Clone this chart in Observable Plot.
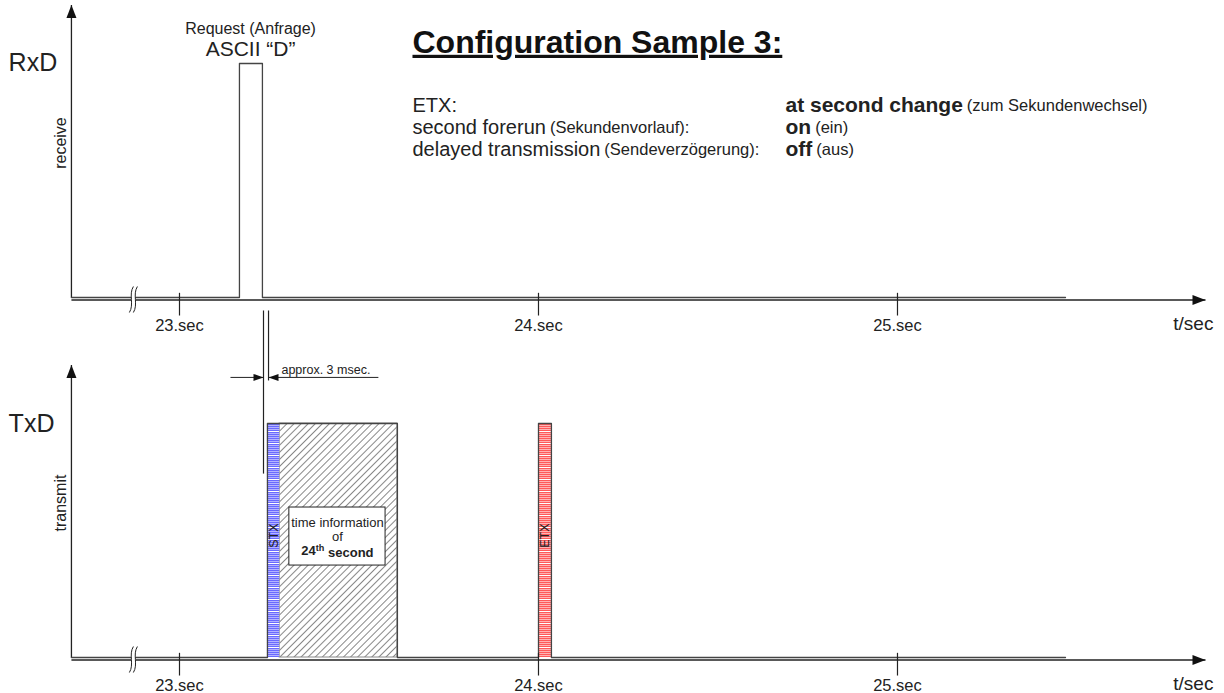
<!DOCTYPE html>
<html><head><meta charset="utf-8">
<script src="https://cdn.jsdelivr.net/npm/d3@7"></script>
<script src="https://cdn.jsdelivr.net/npm/@observablehq/plot@0.6"></script>
<style>body{margin:0;background:#fff}#chart svg{display:block;background:#fff}</style>
</head><body><div id="chart"></div>
<script>
// ---------------- data ----------------
const panels = ["RxD", "TxD"];
const panelDirections = ["receive", "transmit"];
const tickTimes = [23, 24, 25];
const tickLabels = ["23.sec", "24.sec", "25.sec"];
const axisLabel = "t/sec";
const timeStart = 22.699, signalEndTime = 25.468, axisEndTime = 25.858, breakTime = 22.866;
const rxdTimes  = [22.699, 23.167, 23.167, 23.231, 23.231, 25.468];
const rxdLevels = [0, 0, 1, 1, 0, 0];
const txdTimes  = [22.699, 23.245, 23.245, 23.607, 23.607, 24.0, 24.0, 24.036, 24.036, 25.468];
const txdLevels = [0, 0, 1, 1, 0, 0, 1, 1, 0, 0];
const stxSpan  = [23.245, 23.279];
const dataSpan = [23.279, 23.607];
const etxSpan  = [24.0, 24.036];
const frameLabels = ["STX", "ETX"];
const requestLabels = ["Request (Anfrage)", "ASCII \u201cD\u201d"];
const gapLabel = "approx. 3 msec.";
const gapTimes = [23.234, 23.248];
const boxLines = ["time information", "of", "24th second"];
const titleText = "Configuration Sample 3:";
const configNames   = ["ETX:", "second forerun", "delayed transmission"];
const configNamesDe = ["", "(Sekundenvorlauf):", "(Sendeverzögerung):"];
const configValues   = ["at second change", "on", "off"];
const configValuesDe = ["(zum Sekundenwechsel)", "(ein)", "(aus)"];

// ---------------- layout ----------------
const W = 1224, H = 693;
const FONT = "'Liberation Sans', Arial, Helvetica, sans-serif";
const xDomain = [22.5014, 25.9109];
const yDomain = [-0.1538, 2.8077];
const secPerPx = (xDomain[1] - xDomain[0]) / W;
const offsets = [1.5385, 0];
const ink = "#222", sigInk = "#444";

const measureCtx = document.createElement("canvas").getContext("2d");
function textWidth(s, size, weight = "normal") {
  measureCtx.font = `${weight} ${size}px ${FONT}`;
  return measureCtx.measureText(s).width;
}

const sig = [];
rxdTimes.forEach((t, i) => sig.push({panel: "RxD", t, y: rxdLevels[i] + offsets[0]}));
txdTimes.forEach((t, i) => sig.push({panel: "TxD", t, y: txdLevels[i] + offsets[1]}));

const panelRows = panels.map((p, i) => ({panel: p, dir: panelDirections[i], off: offsets[i]}));
const tickRows = panelRows.flatMap(p => tickTimes.map((t, i) => ({t, label: tickLabels[i], off: p.off})));

// custom symbols
const headRight = (len, wid) => ({draw(c) { c.moveTo(0, 0); c.lineTo(-len, -wid / 2); c.lineTo(-len, wid / 2); c.closePath(); }});
const headLeft  = (len, wid) => ({draw(c) { c.moveTo(0, 0); c.lineTo(len, -wid / 2); c.lineTo(len, wid / 2); c.closePath(); }});
const headUp    = (len, wid) => ({draw(c) { c.moveTo(0, 0); c.lineTo(-wid / 2, len); c.lineTo(wid / 2, len); c.closePath(); }});
const breakMask = {draw(c) {
  c.moveTo(2, -13); c.bezierCurveTo(-3, -5, 3, 5, -2, 13);
  c.lineTo(2, 13); c.bezierCurveTo(7, 5, 1, -5, 6, -13); c.closePath();
}};
const breakStroke = {draw(c) {
  c.moveTo(2, -13); c.bezierCurveTo(-3, -5, 3, 5, -2, 13);
  c.moveTo(6, -13); c.bezierCurveTo(1, -5, 7, 5, 2, 13);
}};

// config text segments
const cfgY = [2.359, 2.265, 2.171];
const cfgX = 23.649, cfgValX = 24.688;
const mainSize = 20, boldSize = 21, smallSize = 16.5;
const cfgSegments = [];
configNames.forEach((s, i) => {
  cfgSegments.push({x: cfgX, y: cfgY[i], text: s, size: mainSize, weight: "normal"});
  if (configNamesDe[i]) cfgSegments.push({x: cfgX + (textWidth(s, mainSize) + 4) * secPerPx, y: cfgY[i], text: configNamesDe[i], size: smallSize, weight: "normal"});
  cfgSegments.push({x: cfgValX, y: cfgY[i], text: configValues[i], size: boldSize, weight: "bold"});
  cfgSegments.push({x: cfgValX + (textWidth(configValues[i], boldSize, "bold") + 4) * secPerPx, y: cfgY[i], text: configValuesDe[i], size: smallSize, weight: "normal"});
});

const cfgMarks = [[mainSize, "normal"], [boldSize, "bold"], [smallSize, "normal"]].map(([size, weight]) =>
  Plot.text(cfgSegments.filter(d => d.size === size && d.weight === weight), {
    x: "x", y: "y", text: "text", textAnchor: "start", fontSize: size, fontWeight: weight, fill: ink
  }));

const chart = Plot.plot({
  width: W, height: H, margin: 0,
  x: {domain: xDomain, axis: null},
  y: {domain: yDomain, axis: null},
  style: {fontFamily: FONT, background: "#fff"},
  marks: [
    // bars
    Plot.rect([0], {x1: dataSpan[0], x2: dataSpan[1], y1: 0, y2: 1, fill: "url(#hatch)", stroke: "#888", strokeWidth: 1}),
    Plot.rect([0], {x1: stxSpan[0], x2: stxSpan[1], y1: 0, y2: 1, fill: "url(#stx)"}),
    Plot.rect([0], {x1: etxSpan[0], x2: etxSpan[1], y1: 0, y2: 1, fill: "url(#etx)"}),
    // axes
    Plot.link(panelRows, {x1: timeStart, x2: axisEndTime, y1: "off", y2: "off", dy: 2.5, stroke: ink, strokeWidth: 1.3}),
    Plot.link(panelRows, {x1: timeStart, x2: timeStart, y1: "off", y2: d => d.off + 1.25, stroke: ink, strokeWidth: 1.3}),
    Plot.dot(panelRows, {x: axisEndTime, y: "off", dy: 2.5, symbol: headRight(13, 10), fill: "#111", stroke: "none"}),
    Plot.dot(panelRows, {x: timeStart, y: d => d.off + 1.25, symbol: headUp(13, 10), fill: "#111", stroke: "none"}),
    // signals
    Plot.line(sig, {x: "t", y: "y", z: "panel", stroke: sigInk, strokeWidth: 1.3}),
    // ticks
    Plot.link(tickRows, {x1: "t", x2: "t", y1: d => d.off + 0.02, y2: d => d.off - 0.077, stroke: ink, strokeWidth: 1.2}),
    Plot.text(tickRows, {x: "t", y: d => d.off - 0.12, text: "label", fontSize: 16.5, fill: ink}),
    Plot.text(panelRows, {x: 25.880, y: d => d.off - 0.112, text: () => axisLabel, textAnchor: "end", fontSize: 19, fill: ink}),
    // breaks
    Plot.dot(panelRows, {x: breakTime, y: "off", dy: 2, symbol: breakMask, fill: "#fff", stroke: "none"}),
    Plot.dot(panelRows, {x: breakTime, y: "off", dy: 2, symbol: breakStroke, fill: "none", stroke: ink, strokeWidth: 1}),
    // panel labels
    Plot.text(panelRows, {x: 22.524, y: d => d.off + 1.0, text: "panel", textAnchor: "start", fontSize: 25, fill: ink}),
    Plot.text(panelRows, {x: 22.669, y: d => d.off + 0.66, text: "dir", rotate: -90, fontSize: 16, fill: ink}),
    // request labels
    Plot.text([requestLabels[0]], {x: 23.198, y: 2.685, text: d => d, fontSize: 16, fill: ink}),
    Plot.text([requestLabels[1]], {x: 23.198, y: 2.598, text: d => d, fontSize: 21, fill: ink}),
    // gap annotation
    Plot.link([0], {x1: gapTimes[0], x2: gapTimes[0], y1: 1.483, y2: 0.786, stroke: ink, strokeWidth: 1.2}),
    Plot.link([0], {x1: gapTimes[1], x2: gapTimes[1], y1: 1.483, y2: 1.184, stroke: ink, strokeWidth: 1.2}),
    Plot.link([0], {x1: 23.142, x2: gapTimes[0], y1: 1.197, y2: 1.197, stroke: ink, strokeWidth: 1}),
    Plot.link([0], {x1: 23.554, x2: gapTimes[1], y1: 1.197, y2: 1.197, stroke: ink, strokeWidth: 1}),
    Plot.dot([0], {x: gapTimes[0], y: 1.197, symbol: headRight(10, 7), fill: "#111", stroke: "none"}),
    Plot.dot([0], {x: gapTimes[1], y: 1.197, symbol: headLeft(10, 7), fill: "#111", stroke: "none"}),
    Plot.text([gapLabel], {x: 23.284, y: 1.228, text: d => d, textAnchor: "start", fontSize: 12.5, fill: ink}),
    // info box
    Plot.rect([0], {x1: 23.306, x2: 23.574, y1: 0.393, y2: 0.641, fill: "#fff", stroke: ink, strokeWidth: 1}),
    Plot.text(boxLines.slice(0, 2), {x: 23.440, y: (d, i) => [0.577, 0.517][i], text: d => d, fontSize: 13, fill: ink}),
    Plot.text([boxLines[2]], {x: 23.440, y: 0.455, text: d => d, fontSize: 13, fontWeight: "bold", fill: ink}),
    // frame labels
    Plot.text([frameLabels[0]], {x: (stxSpan[0] + stxSpan[1]) / 2, y: 0.521, text: d => d, rotate: -90, fontSize: 12.5, fill: ink}),
    Plot.text([frameLabels[1]], {x: (etxSpan[0] + etxSpan[1]) / 2, y: 0.521, text: d => d, rotate: -90, fontSize: 12.5, fill: ink}),
    // title & config
    Plot.text([titleText], {x: 23.649, y: 2.628, text: d => d, textAnchor: "start", fontSize: 32, fontWeight: "bold", fill: "#111"}),
    ...cfgMarks
  ]
});
document.getElementById("chart").appendChild(chart);

// ---------------- post-processing: patterns, underline, superscript ----------------
const svg = d3.select(chart);
const defs = svg.insert("defs", ":first-child");
const hatch = defs.append("pattern").attr("id", "hatch").attr("patternUnits", "userSpaceOnUse")
  .attr("width", 5).attr("height", 5).attr("patternTransform", "rotate(45)");
hatch.append("rect").attr("width", 5).attr("height", 5).attr("fill", "#fff");
hatch.append("line").attr("x1", 2.5).attr("x2", 2.5).attr("y1", 0).attr("y2", 5).attr("stroke", "#7a7a7a").attr("stroke-width", 0.9);
function stripes(id, dark, light) {
  const p = defs.append("pattern").attr("id", id).attr("patternUnits", "userSpaceOnUse").attr("width", 12).attr("height", 12);
  for (let i = 0; i < 12; i++) {
    p.append("rect").attr("x", 0).attr("y", i).attr("width", 12).attr("height", 1)
      .attr("fill", i === 11 ? "#fff" : i % 2 ? light : dark);
  }
}
stripes("stx", "#6a6aff", "#b4b4ff");
stripes("etx", "#ff5a5a", "#ffb4b4");

svg.selectAll("text").each(function() {
  const t = this.textContent;
  if (t === titleText) d3.select(this).style("text-decoration", "underline");
  if (t === boxLines[2]) {
    const el = d3.select(this);
    el.text("");
    el.append("tspan").text("24");
    el.append("tspan").attr("dy", "-0.45em").attr("font-size", "0.7em").text("th");
    el.append("tspan").attr("dy", "0.45em").text(" second");
  }
});
</script>
</body></html>
